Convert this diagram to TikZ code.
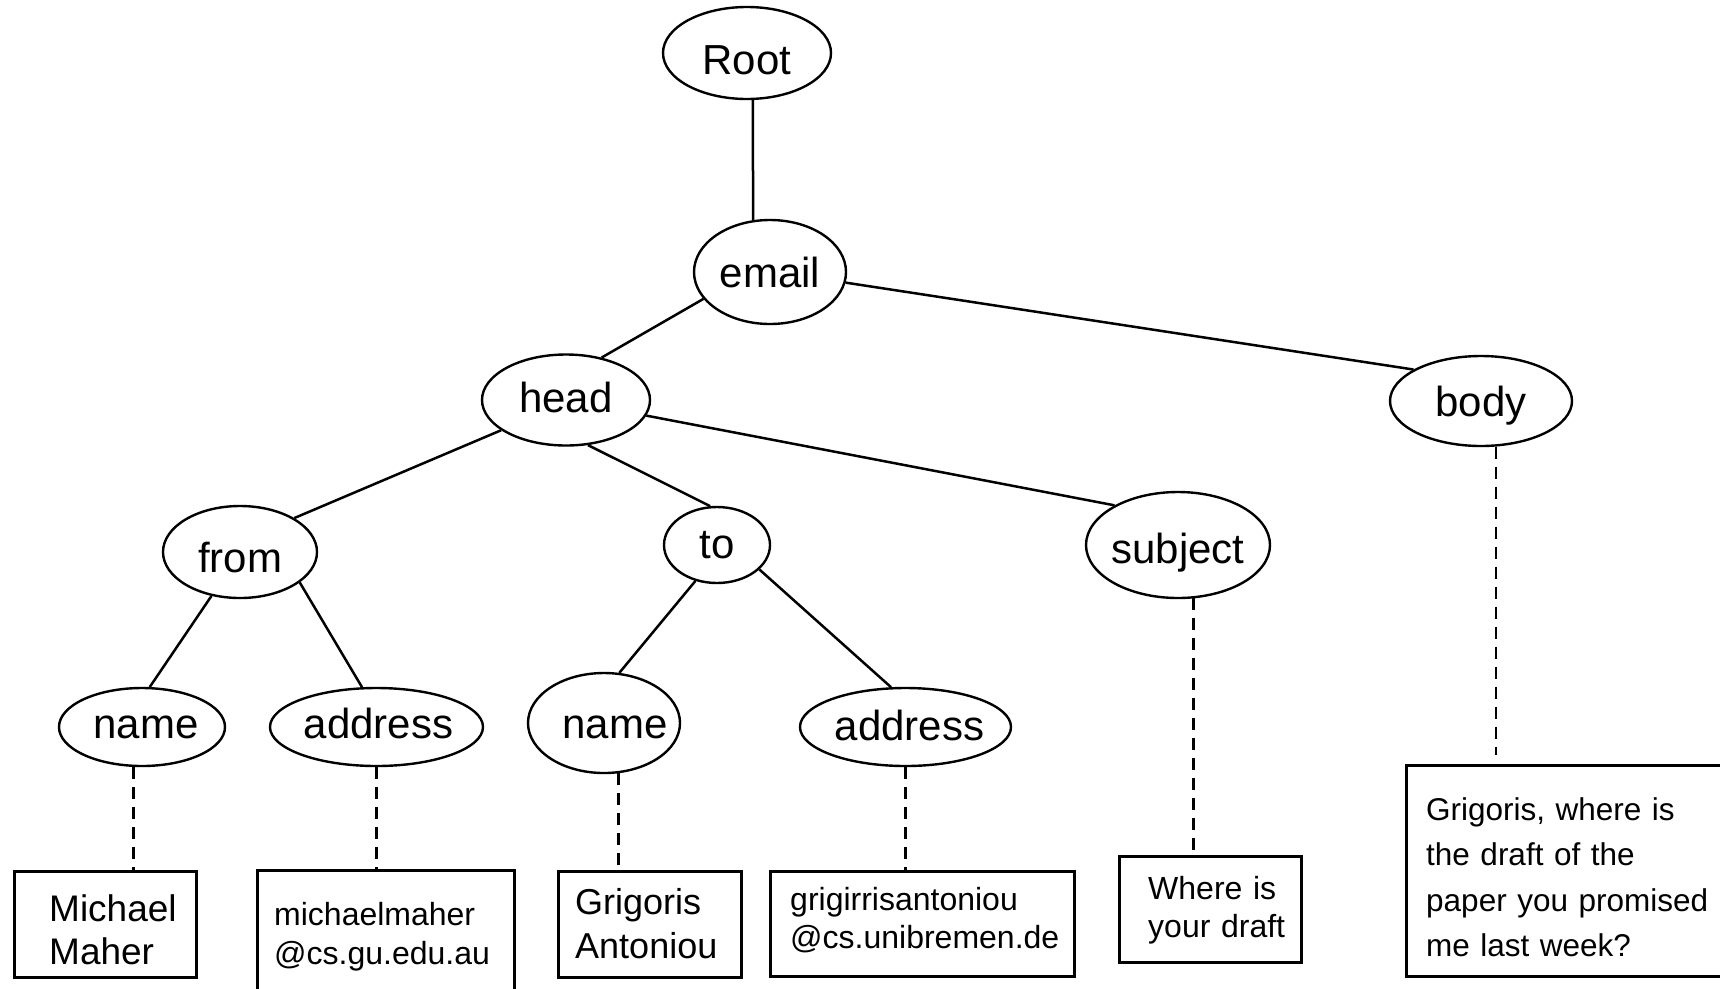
\documentclass[tikz,border=0pt]{standalone}
\usepackage{fontspec}
\setmainfont{Liberation Sans}
\usetikzlibrary{shapes.geometric}
% shift a label to the right without changing the width it occupies
\newcommand{\nudge}[2]{\hspace*{#1}#2\hspace*{-#1}}
\begin{document}
\begin{tikzpicture}[x=1pt,y=-1pt,
  tnode/.style={ellipse,draw,line width=2.4pt,inner sep=-3pt,
    font=\fontsize{42}{50}\selectfont,text depth=0pt},
  leaf/.style={draw,line width=2.8pt,rectangle,inner sep=0pt,anchor=north west},
  leaftext/.style={inner sep=0pt,anchor=base west,text width=330pt,align=left},
  edge/.style={line width=2.5pt},
  valuelink/.style={line width=2.5pt,dash pattern=on 12pt off 8pt}]
\useasboundingbox (0,0) rectangle (1720,988);

% element nodes of the tree
\node[tnode,minimum width=168pt,minimum height=92pt,text height=42pt] (root) at (747,53) {Root};
\node[tnode,minimum width=152pt,minimum height=104pt,text height=30pt] (email) at (770,272) {email};
\node[tnode,minimum width=168pt,minimum height=91pt,text height=24pt] (head) at (566,400) {head};
\node[tnode,minimum width=182pt,minimum height=90pt,text height=30pt] (body) at (1481,401) {body};
\node[tnode,minimum width=154pt,minimum height=92pt,text height=40pt] (from) at (240,552) {from};
\node[tnode,minimum width=106pt,minimum height=76pt,text height=26pt] (to) at (717,545) {to};
\node[tnode,minimum width=184pt,minimum height=106pt,text height=36pt] (subject) at (1178,545) {subject};
\node[tnode,minimum width=166pt,minimum height=78pt,text height=22pt] (name1) at (142,727) {\nudge{4pt}{name}};
\node[tnode,minimum width=213pt,minimum height=78pt,text height=22pt] (address1) at (376.5,727) {\nudge{2pt}{address}};
\node[tnode,minimum width=152pt,minimum height=100pt,text height=30pt] (name2) at (604,723) {\nudge{11pt}{name}};
\node[tnode,minimum width=211pt,minimum height=78pt,text height=26pt] (address2) at (905.5,727) {\nudge{4pt}{address}};

% value boxes
\node[leaf,minimum width=182pt,minimum height=106pt] (mm) at (13,870) {};
\node[leaf,minimum width=257pt,minimum height=140pt] (mmaddr) at (256,869) {};
\node[leaf,minimum width=183pt,minimum height=106pt] (ga) at (557,870) {};
\node[leaf,minimum width=304pt,minimum height=105pt] (gaaddr) at (769,870) {};
\node[leaf,minimum width=182pt,minimum height=106pt] (where) at (1118,855) {};
\node[leaf,minimum width=340pt,minimum height=211pt] (bodybox) at (1405,764) {};

\node[leaftext,font=\fontsize{37}{43}\selectfont] (mmtxt) at (49,921) {Michael\\Maher};
\node[leaftext,font=\fontsize{32}{39}\selectfont] (mmaddrtxt) at (274,925) {michaelmaher\\@cs.gu.edu.au};
\node[leaftext,font=\fontsize{36}{44}\selectfont] (gatxt) at (575,914) {Grigoris\\Antoniou};
\node[leaftext,font=\fontsize{32}{38}\selectfont] (gaaddrtxt) at (790,910) {grigirrisantoniou\\@cs.unibremen.de};
\node[leaftext,font=\fontsize{32}{38}\selectfont] (wheretxt) at (1148,899) {Where is\\your draft};
\node[leaftext,font=\fontsize{31.5}{45.5}\selectfont] (bodytxt) at (1426,820) {Grigoris, where is\\the draft of the\\paper you promised\\me last week?};

% tree edges
\draw[edge] (root.-83) -- (email.108);
\draw[edge] (email.202) -- (head.50);
\draw[edge] (email.-8) -- (body.155);
\draw[edge] (head.205) -- (from.32);
\draw[edge] (head.-64) -- (to.100);
\draw[edge] (head.-11) -- (subject.148);
\draw[edge] (from.237) -- (name1.79);
\draw[edge] (from.-27) -- (address1.110);
\draw[edge] (to.239) -- (name2.73);
\draw[edge] (to.-30) -- (address2.110);

% links from leaf elements to their values
\draw[valuelink] (name1.258) -- (name1.258 |- mm.north);
\draw[valuelink] (address1.south) -- (address1.south |- mmaddr.north);
\draw[valuelink] (name2.-74) -- (name2.-74 |- ga.north);
\draw[valuelink] (address2.south) -- (address2.south |- gaaddr.north);
\draw[valuelink,shorten >=5pt] (subject.-74) -- (subject.-74 |- where.north);
\draw[valuelink,shorten >=9pt] (body.-72) -- (body.-72 |- bodybox.north);
\end{tikzpicture}
\end{document}
